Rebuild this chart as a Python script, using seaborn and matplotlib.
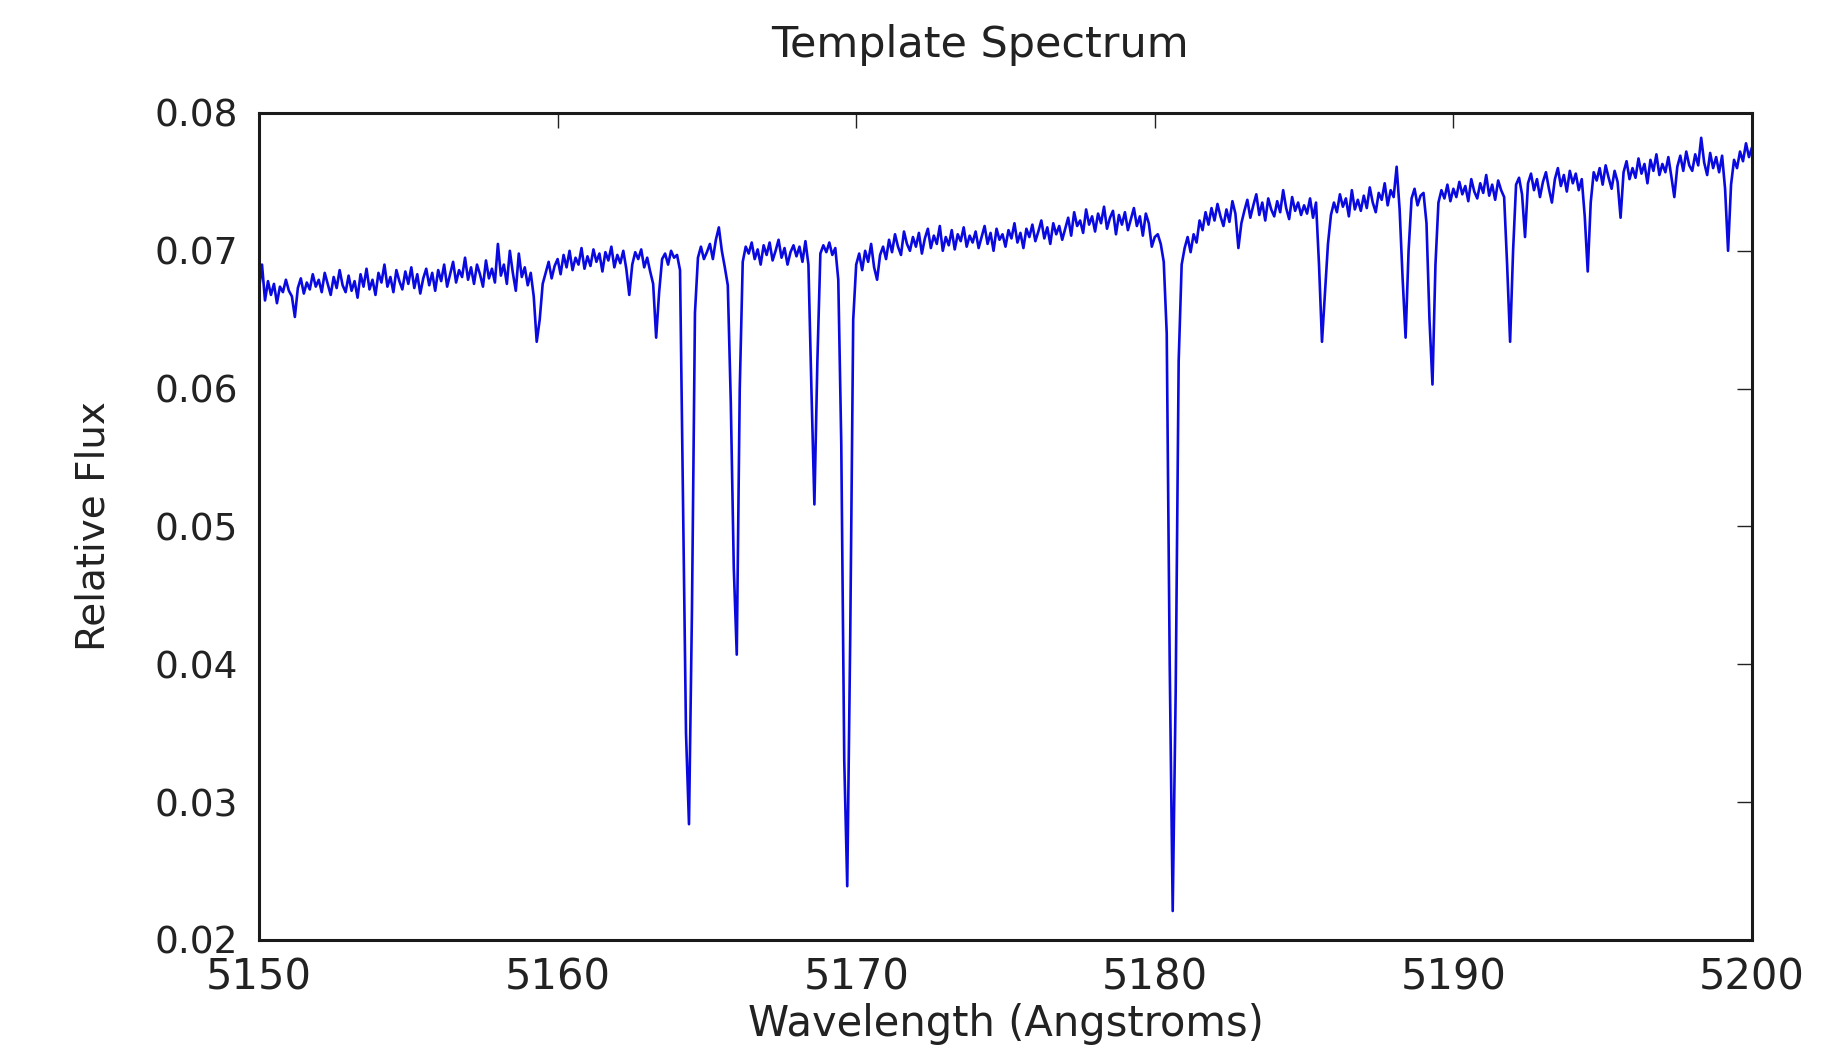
import matplotlib
matplotlib.use("Agg")
import matplotlib.pyplot as plt
import numpy as np
import seaborn as sns

# wavelength grid of the template (Angstroms), one sample every 0.1 A
wave_start = 5150.0
wave_step = 0.1

# relative flux, in units of 1e-4 (one row per Angstrom)
flux_e4 = [
    672, 690, 664, 678, 668, 676, 662, 674, 670, 679,  # 5150
    671, 667, 652, 673, 680, 669, 677, 672, 683, 674,  # 5151
    679, 670, 684, 676, 668, 681, 673, 686, 675, 670,  # 5152
    682, 671, 678, 666, 683, 674, 687, 672, 679, 668,  # 5153
    684, 677, 690, 674, 681, 670, 686, 678, 672, 685,  # 5154
    676, 688, 673, 683, 669, 680, 687, 675, 684, 671,  # 5155
    686, 678, 690, 674, 683, 692, 677, 686, 681, 695,  # 5156
    679, 688, 676, 690, 683, 674, 693, 680, 687, 677,  # 5157
    705, 682, 690, 676, 700, 684, 671, 698, 681, 688,  # 5158
    675, 684, 667, 634, 650, 676, 684, 692, 680, 689,  # 5159
    694, 683, 697, 688, 700, 686, 695, 690, 702, 687,  # 5160
    696, 689, 701, 692, 698, 685, 699, 693, 703, 688,  # 5161
    697, 691, 700, 687, 668, 690, 699, 694, 701, 688,  # 5162
    695, 685, 676, 637, 670, 694, 698, 690, 700, 695,  # 5163
    697, 686, 520, 350, 284, 440, 655, 695, 703, 694,  # 5164
    699, 705, 694, 708, 717, 700, 688, 675, 590, 470,  # 5165
    407, 600, 692, 703, 698, 706, 694, 701, 690, 704,  # 5166
    697, 706, 693, 700, 708, 695, 702, 690, 699, 704,  # 5167
    696, 703, 692, 707, 690, 600, 516, 620, 698, 704,  # 5168
    699, 706, 697, 702, 679, 560, 330, 239, 420, 650,  # 5169
    690, 698, 686, 700, 692, 705, 688, 679, 697, 703,  # 5170
    694, 708, 699, 712, 703, 697, 714, 705, 700, 710,  # 5171
    703, 713, 698, 709, 716, 702, 711, 705, 718, 700,  # 5172
    710, 704, 715, 701, 712, 707, 717, 703, 711, 706,  # 5173
    714, 702, 710, 718, 705, 713, 700, 716, 708, 712,  # 5174
    703, 715, 709, 720, 706, 713, 702, 716, 710, 719,  # 5175
    707, 714, 722, 709, 717, 705, 720, 712, 718, 708,  # 5176
    716, 724, 711, 728, 718, 722, 713, 730, 719, 725,  # 5177
    714, 727, 720, 732, 716, 724, 729, 712, 726, 719,  # 5178
    728, 715, 723, 731, 718, 725, 711, 727, 720, 703,  # 5179
    710, 712, 705, 692, 640, 400, 221, 380, 620, 690,  # 5180
    702, 710, 699, 712, 706, 722, 715, 728, 719, 731,  # 5181
    722, 734, 725, 718, 730, 721, 736, 727, 702, 720,  # 5182
    729, 737, 724, 733, 741, 726, 735, 722, 738, 730,  # 5183
    725, 736, 728, 744, 731, 723, 739, 729, 735, 726,  # 5184
    733, 727, 738, 724, 735, 690, 634, 670, 705, 726,  # 5185
    735, 728, 741, 732, 738, 725, 744, 730, 737, 729,  # 5186
    740, 731, 746, 735, 728, 742, 737, 749, 733, 744,  # 5187
    739, 761, 730, 680, 637, 700, 738, 745, 733, 740,  # 5188
    742, 720, 650, 603, 690, 735, 744, 738, 748, 736,  # 5189
    745, 739, 750, 741, 747, 736, 752, 743, 738, 749,  # 5190
    742, 755, 740, 748, 737, 751, 744, 739, 690, 634,  # 5191
    700, 748, 753, 741, 710, 749, 756, 744, 752, 739,  # 5192
    750, 757, 745, 735, 752, 760, 747, 755, 743, 758,  # 5193
    749, 756, 744, 752, 725, 685, 735, 757, 751, 760,  # 5194
    748, 762, 753, 745, 758, 750, 724, 757, 765, 752,  # 5195
    760, 753, 767, 756, 763, 749, 766, 758, 770, 755,  # 5196
    763, 757, 768, 754, 739, 761, 769, 758, 772, 762,  # 5197
    758, 770, 762, 782, 764, 755, 771, 760, 768, 757,  # 5198
    769, 745, 700, 748, 766, 760, 772, 765, 778, 768,  # 5199
    775,                                               # 5200
]

xticks = [5150, 5160, 5170, 5180, 5190, 5200]
yticks = [0.02, 0.03, 0.04, 0.05, 0.06, 0.07, 0.08]

flux = np.array(flux_e4) / 1e4
wave = wave_start + wave_step * np.arange(len(flux))

sns.set_style("white")
plt.rcParams['font.family'] = ['DejaVu Sans']
plt.rcParams.update({
    'xtick.direction': 'in', 'ytick.direction': 'in',
    'xtick.top': True, 'ytick.right': True,
    'xtick.major.size': 11, 'ytick.major.size': 11,
    'xtick.major.width': 1.0, 'ytick.major.width': 1.0,
    'xtick.color': '#222222', 'ytick.color': '#222222',
})

fig = plt.figure(figsize=(18.28, 10.5), dpi=100)
ax = fig.add_axes([0.1417, 0.1048, 0.8167, 0.7876])

sns.lineplot(x=wave, y=flux, ax=ax, color='#0a0ae0', linewidth=1.9,
             estimator=None, sort=False)

ax.set_xlim(5150, 5200)
ax.set_ylim(0.02, 0.08)
ax.set_xticks(xticks)
ax.set_yticks(yticks)
ax.set_xticklabels([str(t) for t in xticks], fontsize=30, color='#222222')
ax.set_yticklabels([f"{t:.2f}" for t in yticks], fontsize=27, color='#222222')
ax.tick_params(axis='x', pad=12)
ax.tick_params(axis='y', pad=15)

for s in ax.spines.values():
    s.set_color('#1a1a1a')
    s.set_linewidth(2.2)

ax.set_title("Template Spectrum", fontsize=31, color='#222222', pad=40, x=0.483)
ax.set_xlabel("Wavelength (Angstroms)", fontsize=30, color='#222222', labelpad=3)
ax.set_ylabel("Relative Flux", fontsize=28, color='#222222', labelpad=30)

fig.savefig("out.png", dpi=100, facecolor='white')
